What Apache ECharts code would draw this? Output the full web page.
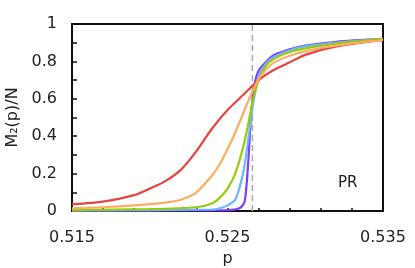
<!DOCTYPE html>
<html><head><meta charset="utf-8">
<script src="https://cdn.jsdelivr.net/npm/echarts@6/dist/echarts.min.js"></script>
<style>html,body{margin:0;padding:0;background:#fff}#c{width:415px;height:268px}</style>
</head><body><div id="c"></div>
<script>
const xTickLabels = ['0.515', '0.525', '0.535'];
const yTickLabels = ['0', '0.2', '0.4', '0.6', '0.8', '1'];
const pc = 0.5266;

const redP = [0.515, 0.517, 0.519, 0.520, 0.521, 0.522, 0.523, 0.524, 0.525, 0.526, 0.527, 0.528, 0.529, 0.530, 0.532, 0.535];
const redV = [0.036, 0.05, 0.085, 0.12, 0.16, 0.22, 0.32, 0.44, 0.54, 0.62, 0.70, 0.755, 0.795, 0.835, 0.88, 0.915];

const orangeP = [0.515, 0.517, 0.519, 0.521, 0.522, 0.523, 0.524, 0.5245, 0.525, 0.5255, 0.526, 0.5265, 0.527, 0.5275, 0.528, 0.529, 0.530, 0.532, 0.535];
const orangeV = [0.015, 0.02, 0.03, 0.045, 0.06, 0.10, 0.19, 0.25, 0.33, 0.42, 0.52, 0.62, 0.705, 0.76, 0.795, 0.83, 0.855, 0.885, 0.915];

const greenP = [0.515, 0.520, 0.523, 0.524, 0.5245, 0.525, 0.5255, 0.526, 0.5263, 0.5266, 0.527, 0.5275, 0.528, 0.529, 0.530, 0.532, 0.535];
const greenV = [0.005, 0.01, 0.02, 0.04, 0.07, 0.12, 0.20, 0.34, 0.45, 0.58, 0.70, 0.78, 0.815, 0.85, 0.87, 0.895, 0.92];

const blueP = [0.515, 0.524, 0.5245, 0.525, 0.5255, 0.526, 0.5263, 0.5266, 0.527, 0.5275, 0.528, 0.529, 0.530, 0.532, 0.535];
const blueV = [0.003, 0.008, 0.015, 0.03, 0.06, 0.20, 0.36, 0.55, 0.72, 0.79, 0.825, 0.86, 0.88, 0.90, 0.92];

const purpleP = [0.515, 0.525, 0.5258, 0.5261, 0.5263, 0.5265, 0.5267, 0.527, 0.5275, 0.528, 0.529, 0.530, 0.532, 0.535];
const purpleV = [0.002, 0.005, 0.016, 0.05, 0.22, 0.49, 0.66, 0.75, 0.80, 0.835, 0.865, 0.885, 0.905, 0.92];

const dashV = [0, 1];

function pairs(P, V) { return P.map((p, i) => [p, V[i]]); }
function line(name, P, V, color, z) {
  return { name, type: 'line', data: pairs(P, V), showSymbol: false, smooth: 0.25,
    lineStyle: { color, width: 2.2 }, itemStyle: { color }, z };
}
const font = 'DejaVu Sans';
const chart = echarts.init(document.getElementById('c'), null, { renderer: 'canvas' });
chart.setOption({
  animation: false,
  grid: { left: 72, right: 32, top: 24, bottom: 57, outerBoundsMode: 'none', containLabel: false,
    show: true, borderColor: '#111', borderWidth: 2, backgroundColor: 'transparent' },
  xAxis: {
    type: 'value', min: 0.515, max: 0.535, interval: 0.002,
    name: 'p', nameLocation: 'middle', nameGap: 33,
    nameTextStyle: { fontFamily: font, fontSize: 16, color: '#222' },
    axisLine: { show: true, lineStyle: { color: '#111', width: 2 } },
    axisTick: { show: true, inside: true, length: 3, lineStyle: { color: '#111', width: 1.5 } },
    axisLabel: { fontFamily: font, fontSize: 16, color: '#222', margin: 19, showMinLabel: true, showMaxLabel: true,
      interval: 0, hideOverlap: false,
      formatter: v => { const s = v.toFixed(3); return xTickLabels.includes(s) ? s : ''; } },
    splitLine: { show: false }
  },
  yAxis: {
    type: 'value', min: 0, max: 1, interval: 0.1,
    name: 'M₂(p)/N', nameLocation: 'middle', nameGap: 48,
    nameTextStyle: { fontFamily: font, fontSize: 16, color: '#222' },
    axisLine: { show: true, lineStyle: { color: '#111', width: 2 } },
    axisTick: { show: true, inside: true, length: 5, lineStyle: { color: '#111', width: 1.5 } },
    axisLabel: { fontFamily: font, fontSize: 16, color: '#222', margin: 15, interval: 0, hideOverlap: false,
      formatter: v => { const s = String(Math.round(v * 10) / 10); return yTickLabels.includes(s) ? s : ''; } },
    splitLine: { show: false }
  },
  graphic: [{ type: 'text', left: 338, top: 176, style: { text: 'PR', fontFamily: font, fontSize: 15, fill: '#222' } }],
  series: [
    { name: 'pc', type: 'line', data: dashV.map(v => [pc, v]), showSymbol: false,
      lineStyle: { color: '#aaaaaa', type: [6, 4], width: 1.5 }, z: 1 },
    line('purple', purpleP, purpleV, '#7b3fff', 2),
    line('blue', blueP, blueV, '#6cb6ff', 3),
    line('green', greenP, greenV, '#94cc0a', 4),
    line('red', redP, redV, '#e8433e', 5),
    line('orange', orangeP, orangeV, '#ffac5e', 6)
  ]
});
</script></body></html>
